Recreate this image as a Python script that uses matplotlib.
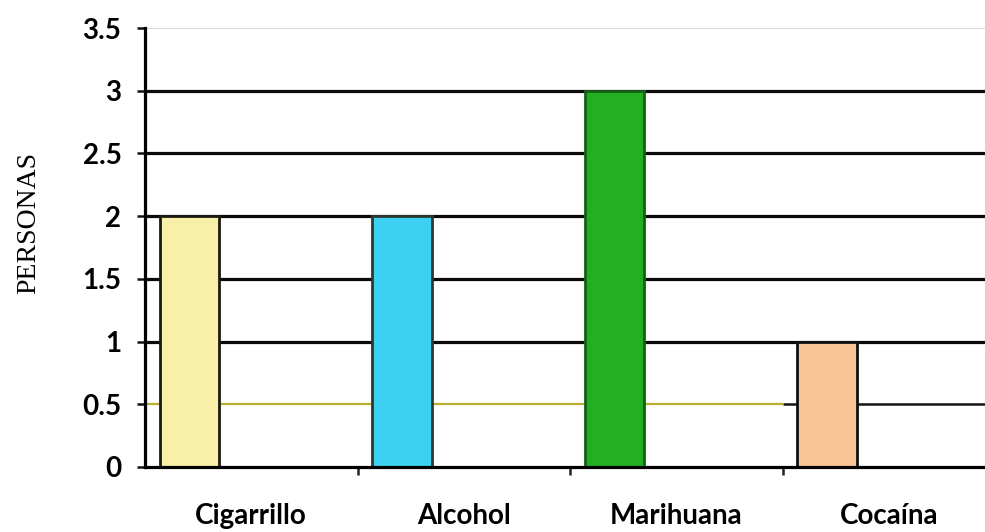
import numpy as np
import matplotlib.pyplot as plt

categorias = ['Cigarrillo', 'Alcohol', 'Marihuana', 'Cocaína']
personas = [2, 2, 3, 1]
colores = ['#f8f0a8', '#3ed0f2', '#22b022', '#f8c496']
bordes = ['#1a1a10', '#2a3a30', '#156015', '#101010']
y_ticks = [0, 0.5, 1, 1.5, 2, 2.5, 3, 3.5]
y_tick_labels = ['0', '0.5', '1', '1.5', '2', '2.5', '3', '3.5']

fig = plt.figure(figsize=(9.85, 5.32), dpi=100)
ax = fig.add_axes([0.1472, 0.1222, 0.863, 0.825])

x = np.arange(len(categorias))
ancho = 0.28
ax.bar(x - 0.29, personas, width=ancho, color=colores, edgecolor=bordes,
       linewidth=2, zorder=3)

# lineas horizontales detras de las barras
for v in [1, 1.5, 2, 2.5, 3]:
    ax.axhline(v, color='#0a0a0a', linewidth=2.3, zorder=1)
ax.hlines(0.5, -0.5, 2.5, color='#b8b030', linewidth=1.6, zorder=1)
ax.hlines(0.5, 2.5, 3.6, color='#141414', linewidth=1.8, zorder=1)
ax.axhline(3.5, color='#d4d4c8', linewidth=1.2, zorder=1)

ax.set_xlim(-0.5, 3.5)
ax.set_ylim(0, 3.5)

ax.set_yticks(y_ticks)
ax.set_yticklabels(y_tick_labels, fontsize=20, fontweight='bold', family='Lato')
ax.tick_params(axis='y', length=6, width=1.8, pad=11, color='#111111')

ax.set_xticks(x)
ax.set_xticklabels(categorias, fontsize=20, fontweight='bold', family='Lato')
ax.set_xticks(x[:-1] + 0.5, minor=True)
ax.tick_params(axis='x', which='major', length=0, pad=26)
ax.tick_params(axis='x', which='minor', length=6, width=1.8, color='#222222')

for lado in ['top', 'right']:
    ax.spines[lado].set_visible(False)
ax.spines['left'].set_linewidth(2.3)
ax.spines['bottom'].set_linewidth(2.3)
ax.spines['left'].set_zorder(4)
ax.spines['bottom'].set_zorder(4)

ax.set_ylabel('PERSONAS', fontsize=20, family='Liberation Serif')
ax.yaxis.set_label_coords(-0.1225, 0.556)

fig.savefig('out.png', dpi=100)
